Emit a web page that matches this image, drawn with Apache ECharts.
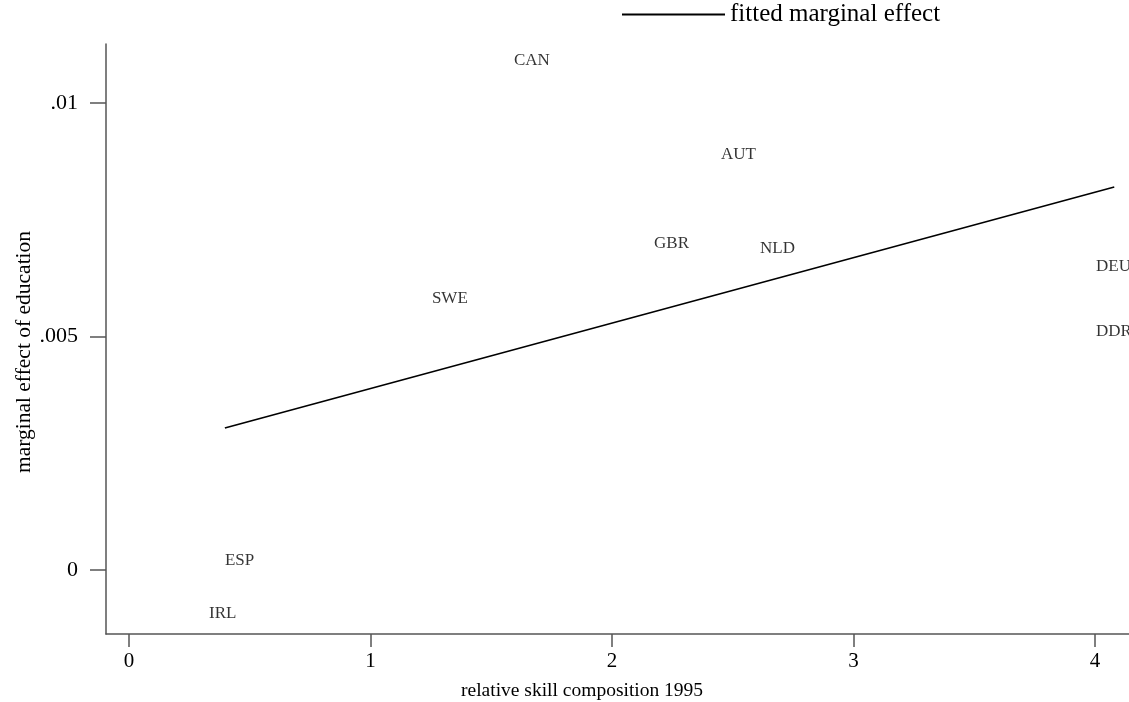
<!DOCTYPE html>
<html>
<head>
<meta charset="utf-8">
<script src="https://cdn.jsdelivr.net/npm/echarts@6/dist/echarts.min.js"></script>
<style>html,body{margin:0;padding:0;background:#fff;}#chart{width:1129px;height:702px;}</style>
</head>
<body>
<div id="chart"></div>
<script>
// Country labels and their data
const countries = ['CAN', 'AUT', 'GBR', 'NLD', 'SWE', 'DEU', 'DDR', 'ESP', 'IRL'];
const skillComposition = [1.586, 2.443, 2.166, 2.605, 1.246, 3.996, 3.996, 0.389, 0.323];
const marginalEffect = [0.01094, 0.00893, 0.00704, 0.00692, 0.00585, 0.00653, 0.00514, 0.000236, -0.00088];
// Fitted line endpoints
const fitX = [0.397, 4.08];
const fitY = [0.00304, 0.0082];
// Tick values
const xTicks = [0, 1, 2, 3, 4];
const yTicks = [0, 0.005, 0.01];
const yTickLabels = ['0', '.005', '.01'];

const FONT = 'Liberation Serif';
const axisColor = '#555';

const chart = echarts.init(document.getElementById('chart'), null, {renderer: 'canvas'});
const scatterData = countries.map((c, i) => ({name: c, value: [skillComposition[i], marginalEffect[i]]}));
const fitData = fitX.map((x, i) => [x, fitY[i]]);

chart.setOption({
  animation: false,
  backgroundColor: '#fff',
  textStyle: {fontFamily: FONT},
  title: [{
    text: 'relative skill composition 1995',
    left: 456, top: 676,
    textStyle: {fontFamily: FONT, fontSize: 19.5, fontWeight: 'normal', color: '#000'}
  }],
  legend: {
    left: 622, top: 2, padding: 0,
    itemWidth: 103, itemHeight: 2,
    data: [{name: 'fitted marginal effect', icon: 'rect'}],
    textStyle: {fontFamily: FONT, fontSize: 25, color: '#000', padding: [6, 0, 0, 0]}
  },
  grid: {left: 106, right: 0, top: 44, bottom: 68, containLabel: false, outerBoundsMode: 'none'},
  xAxis: {
    type: 'value',
    min: -0.0952, max: 4.141,
    axisLine: {show: true, onZero: false, lineStyle: {color: axisColor, width: 1.5}},
    axisTick: {show: true, length: 13, customValues: xTicks, lineStyle: {color: axisColor, width: 1.5}},
    axisLabel: {customValues: xTicks, fontFamily: FONT, fontSize: 21, color: '#000', margin: 17, formatter: v => String(v)},
    splitLine: {show: false}
  },
  yAxis: {
    type: 'value',
    min: -0.00137, max: 0.01126,
    name: 'marginal effect of education',
    nameLocation: 'middle',
    nameGap: 71,
    nameMoveOverlap: false,
    nameTextStyle: {fontFamily: FONT, fontSize: 21.5, color: '#000', padding: [0, 26, 0, 0]},
    axisLine: {show: true, onZero: false, lineStyle: {color: axisColor, width: 1.5}},
    axisTick: {show: true, length: 16, customValues: yTicks, lineStyle: {color: axisColor, width: 1.5}},
    axisLabel: {customValues: yTicks, fontFamily: FONT, fontSize: 22, color: '#000', margin: 28,
      formatter: v => { const i = yTicks.findIndex(t => Math.abs(t - v) < 1e-9); return i >= 0 ? yTickLabels[i] : ''; }},
    splitLine: {show: false}
  },
  series: [
    {
      name: 'countries',
      type: 'scatter',
      symbolSize: 0,
      data: scatterData,
      label: {
        show: true, position: 'right', distance: 2, offset: [0, 2],
        formatter: p => p.name,
        fontFamily: FONT, fontSize: 17, color: '#000'
      },
      emphasis: {disabled: true}
    },
    {
      name: 'fitted marginal effect',
      type: 'line',
      data: fitData,
      symbol: 'none',
      lineStyle: {color: '#000', width: 1.6},
      itemStyle: {color: '#000'}
    }
  ]
});
</script>
</body>
</html>
